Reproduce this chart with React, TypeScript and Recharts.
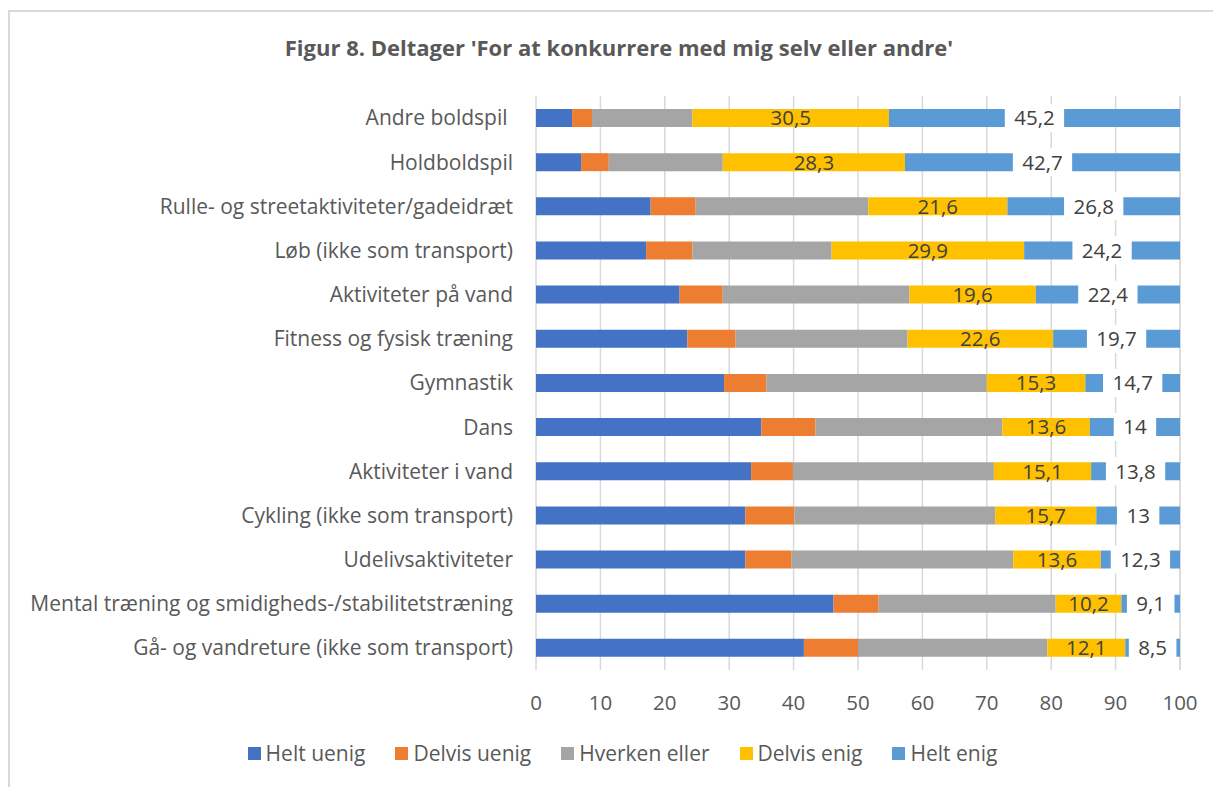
import React from 'react';
import { BarChart, Bar, XAxis, YAxis, CartesianGrid, Legend, LabelList } from 'recharts';

const categories = [
  'Andre boldspil\u00a0',
  'Holdboldspil',
  'Rulle- og streetaktiviteter/gadeidræt',
  'Løb (ikke som transport)',
  'Aktiviteter på vand',
  'Fitness og fysisk træning',
  'Gymnastik',
  'Dans',
  'Aktiviteter i vand',
  'Cykling (ikke som transport)',
  'Udelivsaktiviteter',
  'Mental træning og smidigheds-/stabilitetstræning',
  'Gå- og vandreture (ikke som transport)',
];

const heltUenig = [5.6, 7.0, 17.8, 17.1, 22.3, 23.5, 29.2, 35.0, 33.4, 32.5, 32.5, 46.2, 41.6];
const delvisUenig = [3.1, 4.3, 7.0, 7.2, 6.7, 7.5, 6.6, 8.4, 6.5, 7.6, 7.2, 7.0, 8.4];
const hverkenEller = [15.6, 17.7, 26.8, 21.6, 29.0, 26.7, 34.2, 29.0, 31.2, 31.2, 34.4, 27.5, 29.4];
const delvisEnig = [30.5, 28.3, 21.6, 29.9, 19.6, 22.6, 15.3, 13.6, 15.1, 15.7, 13.6, 10.2, 12.1];
const heltEnig = [45.2, 42.7, 26.8, 24.2, 22.4, 19.7, 14.7, 14.0, 13.8, 13.0, 12.3, 9.1, 8.5];

const xTicks = [0, 10, 20, 30, 40, 50, 60, 70, 80, 90, 100];

const seriesNames = ['Helt uenig', 'Delvis uenig', 'Hverken eller', 'Delvis enig', 'Helt enig'];
const seriesKeys = ['heltUenig', 'delvisUenig', 'hverkenEller', 'delvisEnig', 'heltEnig'];
const seriesColors = ['#4472C4', '#ED7D31', '#A5A5A5', '#FFC000', '#5B9BD5'];

const data = categories.map((name, i) => ({
  name,
  heltUenig: heltUenig[i],
  delvisUenig: delvisUenig[i],
  hverkenEller: hverkenEller[i],
  delvisEnig: delvisEnig[i],
  heltEnig: heltEnig[i],
}));

const FONT = "'Open Sans', sans-serif";
const TEXT = '#595959';
const LABEL = '#404040';
const fmt = (v: number) => String(v).replace('.', ',');

const YTick = (props: any) => {
  const { x, y, payload } = props;
  return (
    <text x={x} y={y} dy="0.35em" textAnchor="end" fontFamily={FONT} fontSize={21} fill={TEXT}>
      {payload.value}
    </text>
  );
};

const XTick = (props: any) => {
  const { x, y, payload } = props;
  return (
    <text x={x} y={y} dy="0.35em" textAnchor="middle" fontFamily={FONT} fontSize={20.5} fill={TEXT}>
      {payload.value}
    </text>
  );
};

const InsideLabel = (props: any) => {
  const { x, y, width, height, value } = props;
  return (
    <text x={x + width / 2} y={y + height / 2} dy="0.36em" textAnchor="middle" fontFamily={FONT} fontSize={20.5} fill={LABEL}>
      {fmt(value)}
    </text>
  );
};

const BoxLabel = (props: any) => {
  const { x, y, width, height, value } = props;
  const s = fmt(value);
  let tw = 0;
  for (const c of s) tw += c === ',' ? 5.2 : 11.7;
  const bw = tw + 19;
  const cx = x + width / 2;
  const cy = y + height / 2;
  return (
    <g>
      <rect x={cx - bw / 2} y={cy - 14} width={bw} height={28} fill="#ffffff" />
      <text x={cx} y={cy} dy="0.36em" textAnchor="middle" fontFamily={FONT} fontSize={20.5} fill={LABEL}>
        {s}
      </text>
    </g>
  );
};

const LegendContent = () => (
  <div style={{ display: 'flex', justifyContent: 'center', alignItems: 'center', fontFamily: FONT, fontSize: 21, color: TEXT }}>
    {seriesNames.map((n, i) => (
      <div key={n} style={{ display: 'flex', alignItems: 'center', marginRight: i < seriesNames.length - 1 ? 30 : 0 }}>
        <span style={{ display: 'inline-block', width: 13, height: 13, background: seriesColors[i], marginRight: 5 }} />
        <span>{n}</span>
      </div>
    ))}
  </div>
);

export default function App() {
  return (
    <div style={{ position: 'absolute', left: 0, top: 0, width: 1213, height: 787, background: '#ffffff', overflow: 'hidden' }}>
      <div style={{ position: 'absolute', left: 8, top: 10, width: 1300, height: 900, borderLeft: '2px solid #d9d9d9', borderTop: '2px solid #d9d9d9' }} />
      <div
        style={{
          position: 'absolute',
          left: 0,
          top: 31,
          width: 1238,
          textAlign: 'center',
          fontFamily: FONT,
          fontWeight: 700,
          fontSize: 22,
          color: TEXT,
          lineHeight: '32px',
        }}
      >
        Figur 8. Deltager 'For at konkurrere med mig selv eller andre'
      </div>
      <div style={{ position: 'absolute', left: 0, top: 0 }}>
        <BarChart
          width={1213}
          height={787}
          data={data}
          layout="vertical"
          margin={{ top: 96, right: 33, left: 0, bottom: 77 }}
          barCategoryGap={0}
        >
          <CartesianGrid horizontal={false} vertical={true} stroke="#d9d9d9" strokeWidth={1.5} />
          <XAxis
            type="number"
            domain={[0, 100]}
            ticks={xTicks}
            axisLine={false}
            tickLine={false}
            tickSize={0}
            tickMargin={33}
            height={40}
            tick={<XTick />}
            interval={0}
          />
          <YAxis
            type="category"
            dataKey="name"
            width={536}
            axisLine={false}
            tickLine={false}
            tickSize={0}
            tickMargin={23}
            tick={<YTick />}
            interval={0}
          />
          <Legend
            layout="horizontal"
            verticalAlign="middle"
            align="center"
            wrapperStyle={{ top: 739, left: 0, width: 1245 }}
            content={<LegendContent />}
          />
          {seriesKeys.map((k, i) => (
            <Bar key={k} dataKey={k} name={seriesNames[i]} stackId="a" fill={seriesColors[i]} barSize={18} isAnimationActive={false}>
              {k === 'delvisEnig' && <LabelList dataKey={k} content={<InsideLabel />} />}
              {k === 'heltEnig' && <LabelList dataKey={k} content={<BoxLabel />} />}
            </Bar>
          ))}
        </BarChart>
      </div>
    </div>
  );
}
